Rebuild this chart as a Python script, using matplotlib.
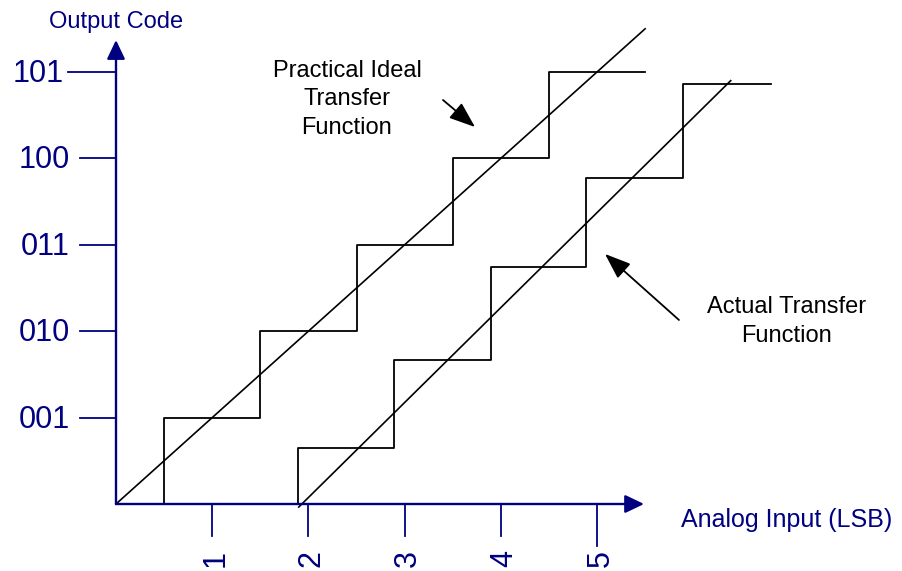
import matplotlib
matplotlib.use('Agg')
import matplotlib.pyplot as plt

plt.rcParams['font.family'] = ['Liberation Sans', 'DejaVu Sans']

# ---------------- data ----------------
code_labels = ['001', '010', '011', '100', '101']
code_values = [1, 2, 3, 4, 5]
lsb_ticks = [1, 2, 3, 4, 5]
lsb_labels = ['1', '2', '3', '4', '5']

# practical ideal transfer function (staircase + straight line)
ideal_transitions = [0.5, 1.5, 2.5, 3.5, 4.5]
ideal_levels = [1, 2, 3, 4, 5]
ideal_end = 5.5
ideal_line_x = [0.0, 5.5]
ideal_line_y = [0.0, 5.5]

# actual transfer function (staircase + straight line)
actual_transitions = [1.895, 2.894, 3.898, 4.89, 5.894]
actual_levels = [0.648, 1.667, 2.74, 3.77, 4.86]
actual_end = 6.806
actual_line_x = [1.90, 6.39]
actual_line_y = [-0.035, 4.90]

# ---------------- style ----------------
NAVY = '#000080'
BLACK = 'black'
PX_X = 96.2    # pixels per LSB
PX_Y = 86.4    # pixels per code
ORIGIN_PX = (116, 504)
W, H = 902, 571

fig = plt.figure(figsize=(W / 100, H / 100), dpi=100)
ax = fig.add_axes([0, 0, 1, 1])
ax.set_xlim(-ORIGIN_PX[0] / PX_X, (W - ORIGIN_PX[0]) / PX_X)
ax.set_ylim(-(H - ORIGIN_PX[1]) / PX_Y, ORIGIN_PX[1] / PX_Y)
ax.axis('off')


def stair_points(trans, levels, end):
    xs = [trans[0]] + list(trans) + [end]
    ys = [0] + list(levels) + [levels[-1]]
    return xs, ys


# staircases and straight transfer lines
xs, ys = stair_points(ideal_transitions, ideal_levels, ideal_end)
ax.step(xs, ys, where='post', color=BLACK, lw=1.3, zorder=2)
ax.plot(ideal_line_x, ideal_line_y, color=BLACK, lw=1.2, zorder=2)

xs, ys = stair_points(actual_transitions, actual_levels, actual_end)
ax.step(xs, ys, where='post', color=BLACK, lw=1.3, zorder=2)
ax.plot(actual_line_x, actual_line_y, color=BLACK, lw=1.2, zorder=2)

# axes with arrow heads
x_axis_end = 5.489
y_axis_end = 5.370
axis_arrow = dict(arrowstyle='-|>,head_length=1.15,head_width=0.55',
                  color=NAVY, lw=1.7, shrinkA=0, shrinkB=0, mutation_scale=10)
ax.annotate('', xy=(x_axis_end, 0), xytext=(0, 0), arrowprops=axis_arrow, zorder=3)
ax.annotate('', xy=(0, y_axis_end), xytext=(0, 0), arrowprops=axis_arrow, zorder=3)

# y ticks and labels
y_tick_len = 0.374
y_tick_len_top = 0.502
for i, (v, lab) in enumerate(zip(code_values, code_labels)):
    top = i == len(code_values) - 1
    L = y_tick_len_top if top else y_tick_len
    ax.plot([-L, 0], [v, v], color=NAVY, lw=1.3, zorder=3)
    lx = -0.541 if top else -0.478
    ax.text(lx, v - 0.116, lab, ha='right', va='baseline', fontsize=22, color=NAVY)

# x ticks and labels
x_tick_len = 0.370
x_tick_len_last = 0.486
for i, (t, lab) in enumerate(zip(lsb_ticks, lsb_labels)):
    last = i == len(lsb_ticks) - 1
    L = x_tick_len_last if last else x_tick_len
    ax.plot([t, t], [-L, 0], color=NAVY, lw=1.3, zorder=3)
    ax.text(t, -0.532, lab, rotation=90, rotation_mode='anchor',
            ha='right', va='center_baseline', fontsize=22, color=NAVY)

# axis titles
ax.text(0, 5.506, 'Output Code', ha='center', va='baseline', fontsize=17, color=NAVY)
ax.text(6.970, -0.266, 'Analog Input (LSB)', ha='center', va='baseline',
        fontsize=18, color=NAVY)

# annotations (va='baseline' anchors the last line's baseline)
ax.text(2.401, 4.282, 'Practical Ideal\nTransfer\nFunction', ha='center',
        va='baseline', multialignment='center', fontsize=17, linespacing=1.39,
        color=BLACK)
ax.text(6.970, 1.878, 'Actual Transfer\nFunction', ha='center',
        va='baseline', multialignment='center', fontsize=17, linespacing=1.39,
        color=BLACK)

note_arrow = dict(arrowstyle='-|>,head_length=1.6,head_width=0.6',
                  color=BLACK, lw=1.3, shrinkA=0, shrinkB=0, mutation_scale=10)
ax.annotate('', xy=(3.732, 4.363), xytext=(3.399, 4.676), arrowprops=note_arrow)
ax.annotate('', xy=(5.083, 2.894), xytext=(5.852, 2.130), arrowprops=note_arrow)

fig.savefig('out.png', dpi=100)
